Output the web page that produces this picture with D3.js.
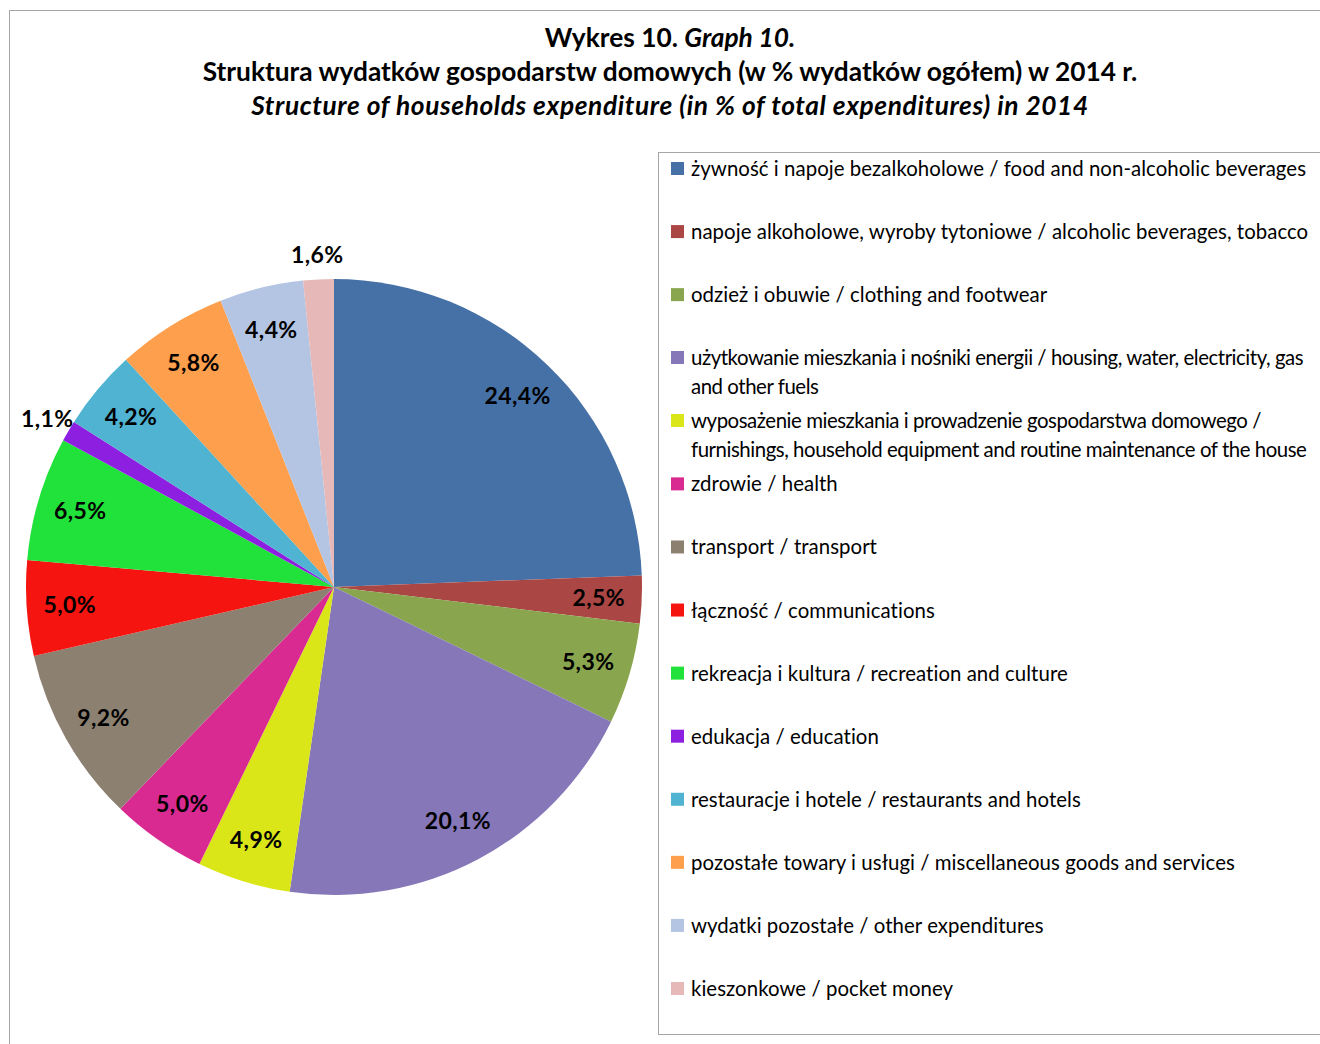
<!DOCTYPE html>
<html>
<head>
<meta charset="utf-8">
<script src="https://cdn.jsdelivr.net/npm/d3@7"></script>
<style>
  body { margin: 0; background: #fff; }
  svg { display: block; font-family: Lato, "Open Sans", sans-serif; }
</style>
</head>
<body>
<div id="chart"></div>
<script>
// data
var categories = [
  "żywność i napoje bezalkoholowe / food and non-alcoholic beverages",
  "napoje alkoholowe, wyroby tytoniowe / alcoholic beverages, tobacco",
  "odzież i obuwie / clothing and footwear",
  "użytkowanie mieszkania i nośniki energii / housing, water, electricity, gas and other fuels",
  "wyposażenie mieszkania i prowadzenie gospodarstwa domowego / furnishings, household equipment and routine maintenance of the house",
  "zdrowie / health",
  "transport / transport",
  "łączność / communications",
  "rekreacja i kultura / recreation and culture",
  "edukacja / education",
  "restauracje i hotele / restaurants and hotels",
  "pozostałe towary i usługi / miscellaneous goods and services",
  "wydatki pozostałe / other expenditures",
  "kieszonkowe / pocket money"
];
var values = [24.4, 2.5, 5.3, 20.1, 4.9, 5.0, 9.2, 5.0, 6.5, 1.1, 4.2, 5.8, 4.4, 1.6];
var colors = ["#4571a6", "#aa4643", "#89a54e", "#8577b8", "#dbe619", "#d92a92",
              "#8c8171", "#f5140f", "#21e23a", "#8d20e0", "#4fb3d1", "#fd9f4d",
              "#b4c4e3", "#e6b8b7"];
// how the long legend entries break in the original
var legendLines = {
  3: ["użytkowanie mieszkania i nośniki energii / housing, water, electricity, gas", "and other fuels"],
  4: ["wyposażenie mieszkania i prowadzenie gospodarstwa domowego /", "furnishings, household equipment and routine maintenance of the house"]
};
var titleLines = ["Struktura wydatków gospodarstw domowych (w % wydatków ogółem) w 2014 r.",
                  "Structure of households expenditure (in % of total expenditures) in 2014"];

var width = 1320, height = 1044;
var cx = 334, cy = 587, radius = 308;

var svg = d3.select("#chart").append("svg")
  .attr("width", width)
  .attr("height", height);

// chart area frame
svg.append("rect")
  .attr("x", 9.5).attr("y", 10.5)
  .attr("width", 1400).attr("height", 1100)
  .attr("fill", "#fff")
  .attr("stroke", "#a6a6a6");

// titles
var t1 = svg.append("text")
  .attr("x", 670).attr("y", 47)
  .attr("text-anchor", "middle")
  .attr("font-size", 26.3).attr("font-weight", "bold");
t1.append("tspan").text("Wykres 10. ");
t1.append("tspan").attr("font-style", "italic").text("Graph 10.");

svg.append("text")
  .attr("x", 670).attr("y", 81)
  .attr("text-anchor", "middle")
  .attr("font-size", 26.3).attr("font-weight", "bold")
  .text(titleLines[0]);

svg.append("text")
  .attr("x", 670).attr("y", 115)
  .attr("text-anchor", "middle")
  .attr("font-size", 26.3).attr("font-weight", "bold").attr("font-style", "italic")
  .attr("letter-spacing", 0.6)
  .text(titleLines[1]);

// pie
var pie = d3.pie().sort(null).value(function(d) { return d; });
var arcs = pie(values);

var arc = d3.arc().innerRadius(0).outerRadius(radius);
var labelArc = d3.arc().innerRadius(radius * 0.86).outerRadius(radius * 0.86);
var outerArc = d3.arc().innerRadius(radius * 1.08).outerRadius(radius * 1.08);

var g = svg.append("g").attr("transform", "translate(" + cx + "," + cy + ")");

g.selectAll("path.slice")
  .data(arcs)
  .enter().append("path")
  .attr("class", "slice")
  .attr("d", arc)
  .attr("fill", function(d, i) { return colors[i]; });

g.selectAll("text.lbl")
  .data(arcs)
  .enter().append("text")
  .attr("class", "lbl")
  .attr("transform", function(d) {
    var c = d.value < 2 ? outerArc.centroid(d) : labelArc.centroid(d);
    return "translate(" + c + ")";
  })
  .attr("text-anchor", "middle")
  .attr("dy", "0.35em")
  .attr("font-size", 23).attr("font-weight", "bold")
  .attr("letter-spacing", 0.4)
  .text(function(d) { return d3.format(".1f")(d.value).replace(".", ",") + "%"; });

// legend
var legend = svg.append("g");
legend.append("rect")
  .attr("x", 658.5).attr("y", 152.5)
  .attr("width", 800).attr("height", 882)
  .attr("fill", "#fff")
  .attr("stroke", "#a6a6a6");

var rowY = d3.scaleLinear().domain([0, 13]).range([169, 989]);
var rows = legend.selectAll("g.item")
  .data(categories)
  .enter().append("g")
  .attr("class", "item")
  .attr("transform", function(d, i) {
    var y = rowY(i);
    if (i == 3) y = 358;
    if (i == 4) y = 421;
    return "translate(671," + y + ")";
  });

rows.append("rect")
  .attr("x", 0).attr("y", -7)
  .attr("width", 13).attr("height", 13)
  .attr("fill", function(d, i) { return colors[i]; });

rows.append("text")
  .attr("x", 20)
  .attr("font-size", 20.4)
  .attr("letter-spacing", function(d, i) { return legendLines[i] ? -0.45 : 0.05; })
  .each(function(d, i) {
    var lines = legendLines[i] || [d];
    var txt = d3.select(this);
    lines.forEach(function(l, k) {
      txt.append("tspan").attr("x", 20).attr("y", 7 + k * 29).text(l);
    });
  });
</script>
</body>
</html>
